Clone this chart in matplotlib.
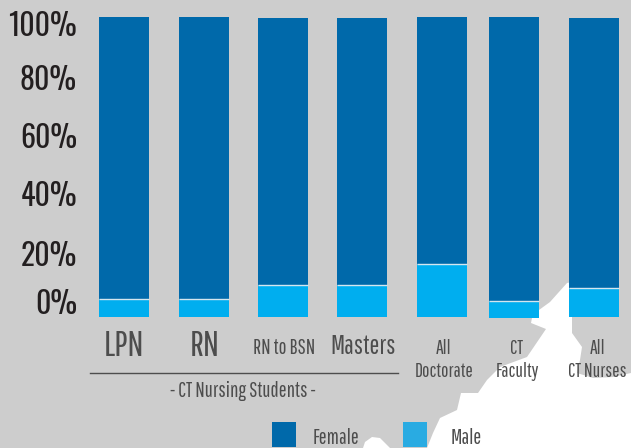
import matplotlib
matplotlib.use('Agg')
import matplotlib.pyplot as plt
from matplotlib.patches import Polygon, Rectangle

FAM = ['Pathway Gothic One', 'Oswald', 'Roboto Condensed', 'Liberation Sans', 'DejaVu Sans']
TICK_FAM = ['Oswald', 'Roboto Condensed', 'Liberation Sans', 'DejaVu Sans']
plt.rcParams['font.family'] = FAM

# data
categories = ['LPN', 'RN', 'RN to BSN', 'Masters', 'All\nDoctorate', 'CT\nFaculty', 'All\nCT Nurses']
male = [6, 6, 10.7, 10.7, 17.7, 5.8, 9.6]
female = [94, 94, 89, 89, 82.3, 94.53, 90.1]
tick_labels = ['100%', '80%', '60%', '40%', '20%', '0%']

# layout, in pixels of the 631x448 picture
bar_left = [99, 179, 258, 337, 417, 489, 569]
bar_w = 50
base = [0, 0, 0, 0, 0, -0.33, 0]
tick_y = [27, 80, 139, 197, 256, 305]
cat_x = [124, 205, 284, 363, 444, 517, 597]
cat_y = [346, 346, 348, 346, 360, 360, 360]
cat_size = [26, 26, 15, 19, 14, 14, 14]

GREY = '#cdcdcd'
DARK = '#0069aa'
LIGHT = '#00aeef'
TEXT = '#4d4d4d'

fig = plt.figure(figsize=(6.31, 4.48), dpi=100, facecolor=GREY)

# pixel axes for the background shape, labels and legend
bg = fig.add_axes([0, 0, 1, 1])
bg.set_xlim(0, 631)
bg.set_ylim(448, 0)
bg.axis('off')

# white map-like shape in the lower right corner
shape = [(427, 448), (433, 433), (440, 418), (457, 410), (461, 393), (478, 393), (487, 380),
         (500, 367), (527, 357), (546, 329), (531, 323), (532, 318), (539, 310), (550, 302),
         (567, 283), (572, 282), (572, 317), (572, 333), (582, 347), (580, 360), (577, 373),
         (593, 378), (613, 377), (631, 373), (631, 448)]
bg.add_patch(Polygon(shape, closed=True, fc='white', ec='none'))
blob = [(363, 448), (365, 442), (372, 437), (380, 438), (390, 448)]
bg.add_patch(Polygon(blob, closed=True, fc='white', ec='none'))

for lab, y in zip(tick_labels, tick_y):
    bg.text(77, y, lab, ha='right', va='center', fontsize=21.5, color='#231f20', family=TICK_FAM)

for lab, x, y, s in zip(categories, cat_x, cat_y, cat_size):
    bg.text(x, y, lab, ha='center', va='center', fontsize=s, color=TEXT, linespacing=1.25)

bg.plot([90, 398], [373, 373], color=TEXT, lw=1)
bg.text(243, 391, '- CT Nursing Students -', ha='center', va='center', fontsize=15, color=TEXT)

# legend
bg.add_patch(Rectangle((272, 422), 24, 25, fc=DARK, ec='none'))
bg.add_patch(Rectangle((403, 422), 24, 25, fc='#29abe2', ec='none'))
bg.text(313, 438, 'Female', ha='left', va='center', fontsize=15, color=TEXT)
bg.text(451, 438, 'Male', ha='left', va='center', fontsize=15, color=TEXT)

# bars: 300 px tall for 100 %, baseline at y = 317
ax = fig.add_axes([0, (448 - 317) / 448, 1, 300 / 448])
ax.patch.set_alpha(0)
ax.set_xlim(0, 631)
ax.set_ylim(0, 100)
ax.axis('off')
tops = [b + m for b, m in zip(base, male)]
ax.bar(bar_left, male, width=bar_w, bottom=base, align='edge', color=LIGHT, clip_on=False)
ax.bar(bar_left, female, width=bar_w, bottom=tops, align='edge', color=DARK, clip_on=False)
for x, t in zip(bar_left, tops):
    ax.plot([x, x + bar_w], [t, t], color='#d5e6ef', lw=1, solid_capstyle='butt')

fig.savefig('out.png', dpi=100, facecolor=GREY)
